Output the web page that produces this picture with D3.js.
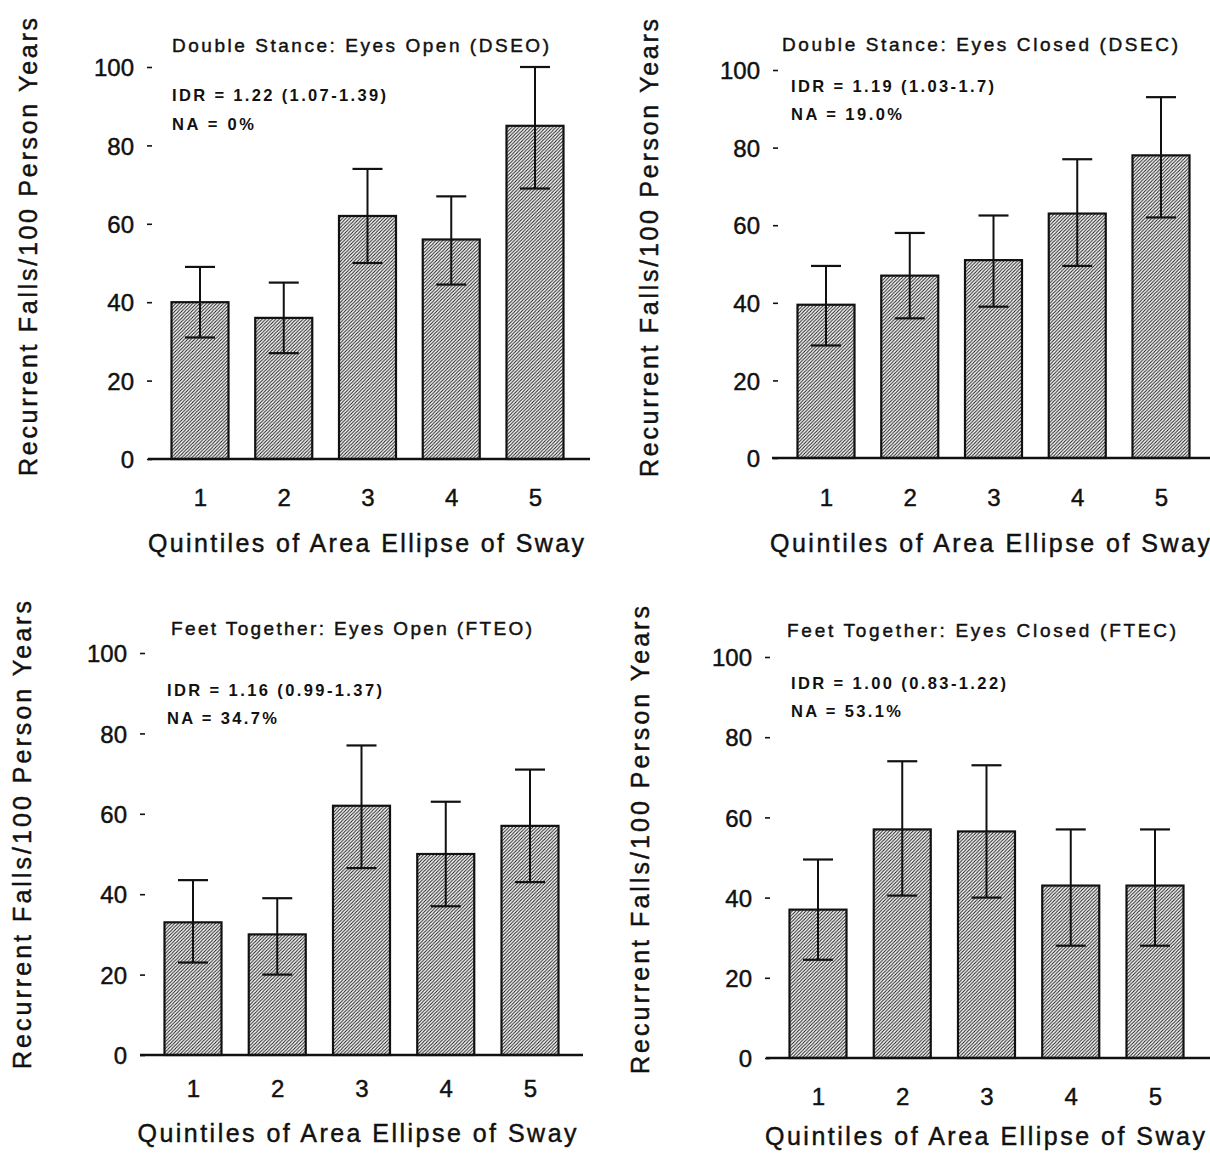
<!DOCTYPE html>
<html>
<head>
<meta charset="utf-8">
<script src="https://cdn.jsdelivr.net/npm/d3@7"></script>
<style>
  html, body { margin: 0; padding: 0; background: #fff; }
  svg { display: block; }
  text { font-family: "Liberation Sans", Arial, Helvetica, sans-serif; fill: #111; }
</style>
</head>
<body>
<svg id="chart" width="1210" height="1153"></svg>
<script>
// ---------------- data ----------------
const categories = ["1", "2", "3", "4", "5"];
const yTicks = [0, 20, 40, 60, 80, 100];
const xAxisTitle = "Quintiles of Area Ellipse of Sway";
const yAxisTitle = "Recurrent Falls/100 Person Years";

const panelTitles = [
  "Double Stance: Eyes Open (DSEO)",
  "Double Stance: Eyes Closed (DSEC)",
  "Feet Together: Eyes Open (FTEO)",
  "Feet Together: Eyes Closed (FTEC)"
];
const idrLabels = [
  "IDR = 1.22 (1.07-1.39)",
  "IDR = 1.19 (1.03-1.7)",
  "IDR = 1.16 (0.99-1.37)",
  "IDR = 1.00 (0.83-1.22)"
];
const naLabels = ["NA = 0%", "NA = 19.0%", "NA = 34.7%", "NA = 53.1%"];

const dseoValues = [40, 36, 62, 56, 85];
const dseoLow    = [31, 27, 50, 44.5, 69];
const dseoHigh   = [49, 45, 74, 67, 100];

const dsecValues = [39.5, 47, 51, 63, 78];
const dsecLow    = [29, 36, 39, 49.5, 62];
const dsecHigh   = [49.5, 58, 62.5, 77, 93];

const fteoValues = [33, 30, 62, 50, 57];
const fteoLow    = [23, 20, 46.5, 37, 43];
const fteoHigh   = [43.5, 39, 77, 63, 71];

const ftecValues = [37, 57, 56.5, 43, 43];
const ftecLow    = [24.5, 40.5, 40, 28, 28];
const ftecHigh   = [49.5, 74, 73, 57, 57];

// ---------------- layout (positions only) ----------------
const panels = [
  { values: dseoValues, low: dseoLow, high: dseoHigh,
    y0: 459, y100: 67, axisX: 152, baseL: 148, baseR: 590, x1: 200, x5: 535,
    titleX: 172, titleY: 52, titleW: 377, infoX: 172, idrY: 101, naY: 130, idrW: 214, naW: 82,
    xTitleX: 366, xTitleY: 552, xTitleW: 436, tickY: 506, yTitleX: 28, yTitleC: 247, yTitleW: 458 },
  { values: dsecValues, low: dsecLow, high: dsecHigh,
    y0: 458, y100: 70, axisX: 778, baseL: 772, baseR: 1212, x1: 826, x5: 1161,
    titleX: 782, titleY: 51, titleW: 396, infoX: 791, idrY: 92, naY: 120, idrW: 203, naW: 111,
    xTitleX: 990, xTitleY: 552, xTitleW: 440, tickY: 506, yTitleX: 649, yTitleC: 248, yTitleW: 458 },
  { values: fteoValues, low: fteoLow, high: fteoHigh,
    y0: 1055, y100: 653, axisX: 145, baseL: 140, baseR: 583, x1: 193, x5: 530,
    titleX: 171, titleY: 635, titleW: 361, infoX: 167, idrY: 696, naY: 724, idrW: 215, naW: 110,
    xTitleX: 357, xTitleY: 1142, xTitleW: 439, tickY: 1097, yTitleX: 22, yTitleC: 835, yTitleW: 468 },
  { values: ftecValues, low: ftecLow, high: ftecHigh,
    y0: 1058, y100: 657, axisX: 770, baseL: 766, baseR: 1210, x1: 818, x5: 1155,
    titleX: 787, titleY: 637, titleW: 389, infoX: 791, idrY: 689, naY: 717, idrW: 215, naW: 110,
    xTitleX: 985, xTitleY: 1145, xTitleW: 440, tickY: 1105, yTitleX: 640, yTitleC: 840, yTitleW: 468 }
];

const svg = d3.select("#chart");
svg.append("rect").attr("width", 1210).attr("height", 1153).attr("fill", "#fff");

// hatch pattern
const defs = svg.append("defs");
const pat = defs.append("pattern")
  .attr("id", "hatch")
  .attr("patternUnits", "userSpaceOnUse")
  .attr("width", 3.4).attr("height", 3.4);
pat.append("rect").attr("width", 3.4).attr("height", 3.4).attr("fill", "#fff");
pat.append("path")
  .attr("d", "M-1,1 L1,-1 M0,3.4 L3.4,0 M2.4,4.4 L4.4,2.4")
  .attr("stroke", "#1a1a1a").attr("stroke-width", 1.05);

const barW = 57;
const capW = 30;
const thick = sel => sel.attr("stroke", "#111").attr("stroke-width", 0.45);

panels.forEach((p, i) => {
  const g = svg.append("g");
  const y = d3.scaleLinear().domain([0, 100]).range([p.y0, p.y100]);
  const x = d3.scalePoint().domain(categories).range([p.x1, p.x5]);

  // y axis ticks (no domain line)
  const yAxis = g.append("g")
    .attr("transform", `translate(${p.axisX},0)`)
    .call(d3.axisLeft(y).tickValues(yTicks).tickSize(5).tickPadding(13).tickFormat(d3.format("d")));
  yAxis.select(".domain").remove();
  yAxis.selectAll(".tick line").attr("stroke", "#111").attr("stroke-width", 1.6);
  yAxis.selectAll(".tick text")
    .style("font-size", "24px")
    .style("font-family", "'Liberation Sans', Arial, sans-serif")
    .attr("fill", "#111")
    .attr("dy", "0.36em")
    .call(thick);

  // bars
  const data = categories.map((c, k) => ({ c, v: p.values[k], lo: p.low[k], hi: p.high[k] }));
  g.selectAll("rect.bar").data(data).join("rect")
    .attr("class", "bar")
    .attr("x", d => x(d.c) - barW / 2)
    .attr("width", barW)
    .attr("y", d => y(d.v))
    .attr("height", d => y(0) - y(d.v))
    .attr("fill", "url(#hatch)")
    .attr("stroke", "#111")
    .attr("stroke-width", 2.2);

  // baseline
  g.append("line")
    .attr("x1", p.baseL).attr("x2", p.baseR)
    .attr("y1", y(0)).attr("y2", y(0))
    .attr("stroke", "#111").attr("stroke-width", 2.4);

  // error bars
  const eb = g.selectAll("g.err").data(data).join("g").attr("class", "err");
  eb.append("line")
    .attr("x1", d => x(d.c)).attr("x2", d => x(d.c))
    .attr("y1", d => y(d.lo)).attr("y2", d => y(d.hi))
    .attr("stroke", "#111").attr("stroke-width", 2);
  eb.append("line")
    .attr("x1", d => x(d.c) - capW / 2).attr("x2", d => x(d.c) + capW / 2)
    .attr("y1", d => y(d.hi)).attr("y2", d => y(d.hi))
    .attr("stroke", "#111").attr("stroke-width", 2.2);
  eb.append("line")
    .attr("x1", d => x(d.c) - capW / 2).attr("x2", d => x(d.c) + capW / 2)
    .attr("y1", d => y(d.lo)).attr("y2", d => y(d.lo))
    .attr("stroke", "#111").attr("stroke-width", 2.2);

  // x tick labels
  const xAxis = g.append("g")
    .attr("transform", `translate(0,${p.tickY})`)
    .call(d3.axisBottom(x).tickSize(0).tickPadding(0));
  xAxis.select(".domain").remove();
  xAxis.selectAll(".tick text")
    .style("font-size", "24px")
    .style("font-family", "'Liberation Sans', Arial, sans-serif")
    .attr("fill", "#111")
    .attr("dy", "0")
    .call(thick);

  // titles and annotations
  g.append("text")
    .attr("x", p.titleX).attr("y", p.titleY)
    .attr("textLength", p.titleW).attr("lengthAdjust", "spacing")
    .style("font-size", "19px")
    .call(thick)
    .text(panelTitles[i]);
  g.append("text")
    .attr("x", p.infoX).attr("y", p.idrY)
    .attr("textLength", p.idrW).attr("lengthAdjust", "spacing")
    .style("font-size", "16.5px").style("font-weight", "bold")
    .text(idrLabels[i]);
  g.append("text")
    .attr("x", p.infoX).attr("y", p.naY)
    .attr("textLength", p.naW).attr("lengthAdjust", "spacing")
    .style("font-size", "16.5px").style("font-weight", "bold")
    .text(naLabels[i]);

  // axis titles
  g.append("text")
    .attr("x", p.xTitleX).attr("y", p.xTitleY)
    .attr("text-anchor", "middle")
    .attr("textLength", p.xTitleW).attr("lengthAdjust", "spacing")
    .style("font-size", "25px")
    .call(thick)
    .text(xAxisTitle);
  g.append("text")
    .attr("transform", `translate(${p.yTitleX + 9},${p.yTitleC}) rotate(-90)`)
    .attr("text-anchor", "middle")
    .attr("textLength", p.yTitleW).attr("lengthAdjust", "spacing")
    .style("font-size", "25px")
    .call(thick)
    .text(yAxisTitle);
});
</script>
</body>
</html>
